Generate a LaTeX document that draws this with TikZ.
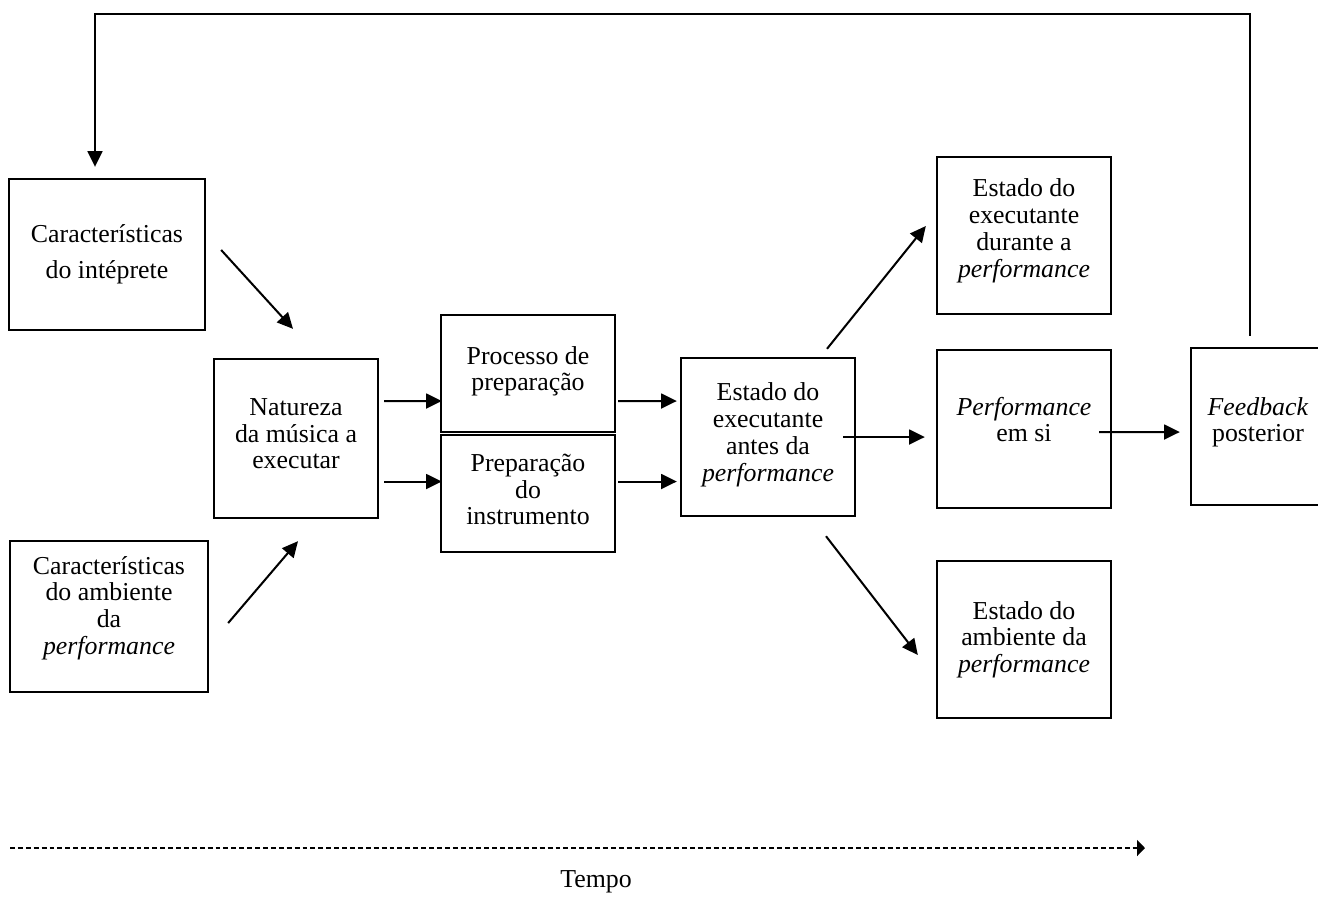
\documentclass[tikz,border=0pt]{standalone}
\usepackage{fontspec}
\setmainfont{Liberation Serif}
\usetikzlibrary{positioning,arrows.meta,calc}

\begin{document}
\begin{tikzpicture}[
          x=0.02cm,y=-0.02cm,
          box/.style={draw=black,line width=1.35pt,inner sep=2pt,align=center,
                      font=\fontsize{14.7}{15.2}\selectfont},
          arr/.style={-{Triangle[length=9pt,width=8.5pt]},line width=1.15pt},
          timearr/.style={-{Triangle[length=4.5pt,width=9pt]},line width=1.3pt,dash pattern=on 2.8pt off 1.7pt}]
        \useasboundingbox (0,0) rectangle (1318,897);
        \clip (0,0) rectangle (1318,897);
        \node[box,minimum width=3.92cm,minimum height=3.02cm] (carint) at (107,254.5)
              {Características\\[5pt]do intéprete};
        \node[box,minimum width=3.96cm,minimum height=3.02cm] (caramb) at (109,616.5)
              {Características\\do ambiente\\da\\\textit{performance}\\[-2.2pt]};
        \node[box,minimum width=3.28cm,minimum height=3.18cm] (natureza) at (296,438.5)
              {Natureza\\da música a\\executar\\[-9.6pt]};
        \node[box,minimum width=3.48cm,minimum height=2.34cm] (procprep) at (528,373.5)
              {Processo de\\preparação\\[-9.6pt]};
        \node[box,minimum width=3.48cm,minimum height=2.34cm] (prepinstr) at (528,493.5)
              {Preparação\\do\\instrumento\\[-10.6pt]};
        \node[box,minimum width=3.48cm,minimum height=3.16cm] (estantes) at (768,437)
              {Estado do\\executante\\antes da\\\textit{performance}\\[-9.6pt]};
        \node[box,minimum width=3.48cm,minimum height=3.14cm] (estdur) at (1024,235.5)
              {Estado do\\executante\\durante a\\\textit{performance}\\[-6.7pt]};
        \node[box,minimum width=3.48cm,minimum height=3.16cm] (perf) at (1024,429)
              {\textit{Performance}\\em si\\[-4.4pt]};
        \node[box,minimum width=3.48cm,minimum height=3.14cm] (estamb) at (1024,639.5)
              {Estado do\\ambiente da\\\textit{performance}};
        \node[box,minimum width=2.68cm,minimum height=3.14cm] (feedback) at (1258,426.5)
              {\textit{Feedback}\\posterior\\[-7.2pt]};

        \draw[arr] ($(carint.east)+(15,-4.5)$) -- ($(natureza.north)+(-3,-29)$);
        \draw[arr] ($(caramb.east)+(19,6.5)$) -- ($(natureza.south)+(2,22)$);
        \draw[arr] ($(natureza.east)+(5,-37.5)$) -- ($(procprep.west)+(2,27.5)$);
        \draw[arr] ($(natureza.east)+(5,43)$) -- ($(prepinstr.west)+(2,-12)$);
        \draw[arr] ($(procprep.east)+(2,27.5)$) -- ($(estantes.west)+(-3,-36)$);
        \draw[arr] ($(prepinstr.east)+(2,-12)$) -- ($(estantes.west)+(-3,44.5)$);
        \draw[arr] ($(estantes.north)+(59,-8)$) -- ($(estdur.west)+(-10,-9.5)$);
        \draw[arr] ($(estantes.center)+(75,0)$) -- ($(perf.west)+(-11,8)$);
        \draw[arr] ($(estantes.south)+(58,19)$) -- ($(estamb.west)+(-18,15.5)$);
        \draw[arr] ($(perf.center)+(75,3)$) -- ($(feedback.west)+(-10,5.5)$);
        \draw[arr] ($(feedback.north)+(-8,-11)$) -- ++(0,-322) -| ($(carint.north)+(-12,-11)$);

        \coordinate (tstart) at (10,848);
        \coordinate (tend) at (1145,848);
        \draw[timearr] (tstart) -- (tend);
        \node[font=\fontsize{14.7}{15.2}\selectfont] (tempo) at (596,882) {Tempo};
      \end{tikzpicture}
\end{document}
